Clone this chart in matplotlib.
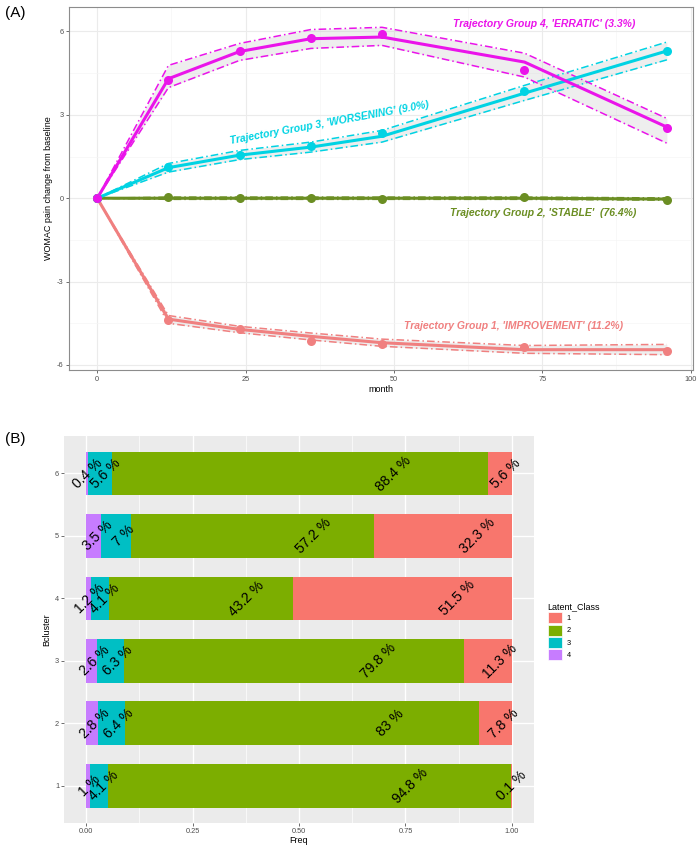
"""Trajectory groups of WOMAC pain change (A) and latent class share per cluster (B)."""
import matplotlib

matplotlib.use("Agg")
import matplotlib.pyplot as plt
from matplotlib.patches import Patch

plt.rcParams["font.family"] = ["Liberation Sans", "DejaVu Sans"]
plt.rcParams["axes.unicode_minus"] = False

# Panel A data: months and group means / observed points / 95% bounds
months = [0, 12, 24, 36, 48, 72, 96]

g1_fit = [0, -4.35, -4.72, -4.97, -5.2, -5.45, -5.45]
g1_obs = [0, -4.38, -4.70, -5.14, -5.24, -5.34, -5.50]
g1_lo = [0, -4.50, -4.84, -5.10, -5.33, -5.58, -5.63]
g1_hi = [0, -4.22, -4.61, -4.85, -5.07, -5.30, -5.26]

g2_fit = [0, 0.0, 0.0, 0.0, 0.0, 0.0, -0.03]
g2_obs = [0, 0.04, 0.01, 0.01, -0.02, 0.04, -0.05]
g2_lo = [0, -0.04, -0.04, -0.04, -0.04, -0.04, -0.07]
g2_hi = [0, 0.04, 0.04, 0.04, 0.04, 0.04, 0.01]

g3_fit = [0, 1.10, 1.55, 1.84, 2.23, 3.78, 5.30]
g3_obs = [0, 1.11, 1.54, 1.87, 2.33, 3.85, 5.28]
g3_lo = [0, 0.94, 1.39, 1.66, 2.02, 3.52, 4.98]
g3_hi = [0, 1.25, 1.72, 2.02, 2.44, 4.06, 5.62]

g4_fit = [0, 4.30, 5.28, 5.74, 5.80, 4.90, 2.56]
g4_obs = [0, 4.27, 5.28, 5.78, 5.92, 4.60, 2.51]
g4_lo = [0, 3.98, 4.96, 5.39, 5.50, 4.36, 1.98]
g4_hi = [0, 4.78, 5.57, 6.07, 6.15, 5.22, 2.87]

group_labels = [
    "Trajectory Group 1, 'IMPROVEMENT' (11.2%)",
    "Trajectory Group 2, 'STABLE'  (76.4%)",
    "Trajectory Group 3, 'WORSENING' (9.0%)",
    "Trajectory Group 4, 'ERRATIC' (3.3%)",
]
group_colors = ["#F08080", "#6B8E23", "#00D3E3", "#EA14EA"]
# where each group's label sits (month, value, rotation)
label_pos = [(70.2, -4.58, 0), (75.2, -0.53, 0), (39.2, 2.72, 10.4), (75.3, 6.26, 0)]

# Panel B data: percentage of each latent class within each Bcluster
clusters = [1, 2, 3, 4, 5, 6]
class4_pct = [1, 2.8, 2.6, 1.2, 3.5, 0.4]
class3_pct = [4.1, 6.4, 6.3, 4.1, 7, 5.6]
class2_pct = [94.8, 83, 79.8, 43.2, 57.2, 88.4]
class1_pct = [0.1, 7.8, 11.3, 51.5, 32.3, 5.6]
class_names = ["1", "2", "3", "4"]
class_colors = ["#F8766D", "#7CAE00", "#00BFC4", "#C77CFF"]

fig = plt.figure(figsize=(7, 8.47), dpi=100)

# ---------------- Panel A ----------------
ax = fig.add_axes([0.0986, 0.5632, 0.8914, 0.4285])
groups = [
    (g1_fit, g1_obs, g1_lo, g1_hi),
    (g2_fit, g2_obs, g2_lo, g2_hi),
    (g3_fit, g3_obs, g3_lo, g3_hi),
    (g4_fit, g4_obs, g4_lo, g4_hi),
]
for (fit, obs, lo, hi), col in zip(groups, group_colors):
    ax.fill_between(months, lo, hi, color="#BEBEBE", alpha=0.25, lw=0, zorder=2)
    ax.plot(months, lo, color=col, lw=1.1, dashes=(5, 2, 1, 2), zorder=3)
    ax.plot(months, hi, color=col, lw=1.1, dashes=(5, 2, 1, 2), zorder=3)
    ax.plot(months, fit, color=col, lw=2.2, solid_capstyle="butt", zorder=4)
    ax.plot(months, obs, "o", color=col, ms=6.5, mec="none", zorder=5)

for text, col, (lx, ly, rot) in zip(group_labels, group_colors, label_pos):
    ax.text(lx, ly, text, color=col, fontsize=7.5, fontweight="bold", fontstyle="italic",
            ha="center", va="center", rotation=rot, zorder=6)

ax.set_xlim(-4.75, 100.4)
ax.set_ylim(-6.18, 6.88)
ax.set_xticks([0, 25, 50, 75, 100])
ax.set_xticks([12.5, 37.5, 62.5, 87.5], minor=True)
ax.set_yticks([-6, -3, 0, 3, 6])
ax.set_yticks([-4.5, -1.5, 1.5, 4.5], minor=True)
ax.grid(which="major", color="#EBEBEB", lw=0.8)
ax.grid(which="minor", color="#F5F5F5", lw=0.5)
ax.set_axisbelow(True)
for sp in ax.spines.values():
    sp.set_color("#8C8C8C")
    sp.set_linewidth(0.8)
ax.tick_params(which="major", length=2, width=0.5, color="#333333", labelsize=5.3,
               labelcolor="#4D4D4D", pad=2)
ax.tick_params(which="minor", length=0)
ax.set_xlabel("month", fontsize=6.5, labelpad=2)
ax.set_ylabel("WOMAC pain change from baseline", fontsize=6.5, labelpad=3)
fig.text(0.007, 0.985, "(A)", fontsize=11, ha="left", va="center")

# ---------------- Panel B ----------------
bx = fig.add_axes([0.0914, 0.028, 0.6714, 0.4573])
bx.set_facecolor("#EBEBEB")
stack = [class4_pct, class3_pct, class2_pct, class1_pct]
stack_colors = [class_colors[3], class_colors[2], class_colors[1], class_colors[0]]
left = [0.0] * len(clusters)
for vals, col in zip(stack, stack_colors):
    widths = [v / 100 for v in vals]
    bx.barh(clusters, widths, left=left, height=0.7, color=col, lw=0, zorder=2)
    for c, l0, w, v in zip(clusters, left, widths, vals):
        bx.text(l0 + 0.75 * w, c, f"{v:g} %", rotation=45, fontsize=10,
                ha="center", va="center", rotation_mode="anchor", zorder=3)
    left = [l0 + w for l0, w in zip(left, widths)]

bx.set_xlim(-0.052, 1.052)
bx.set_ylim(0.4, 6.6)
bx.set_xticks([0, 0.25, 0.5, 0.75, 1.0])
bx.set_xticklabels(["0.00", "0.25", "0.50", "0.75", "1.00"])
bx.set_xticks([0.125, 0.375, 0.625, 0.875], minor=True)
bx.set_yticks(clusters)
bx.grid(which="major", color="white", lw=1.0)
bx.grid(which="minor", axis="x", color="white", lw=0.5)
bx.set_axisbelow(True)
for sp in bx.spines.values():
    sp.set_visible(False)
bx.tick_params(which="major", length=2, width=0.5, color="#333333", labelsize=5.3,
               labelcolor="#4D4D4D", pad=1.5)
bx.tick_params(which="minor", length=0)
bx.set_xlabel("Freq", fontsize=6.5, labelpad=0.5)
bx.set_ylabel("Bcluster", fontsize=6.5, labelpad=3)
fig.text(0.007, 0.482, "(B)", fontsize=11, ha="left", va="center")

handles = [Patch(facecolor=c, edgecolor="white", lw=0.5) for c in class_colors]
leg = fig.legend(handles, class_names, title="Latent_Class", loc="center left",
                 bbox_to_anchor=(0.777, 0.255), frameon=False, fontsize=5.3,
                 title_fontsize=6.5, handlelength=1.9, handleheight=1.9,
                 labelspacing=0.2, handletextpad=0.7, borderpad=0, alignment="left")

fig.savefig("out.png", dpi=100)
